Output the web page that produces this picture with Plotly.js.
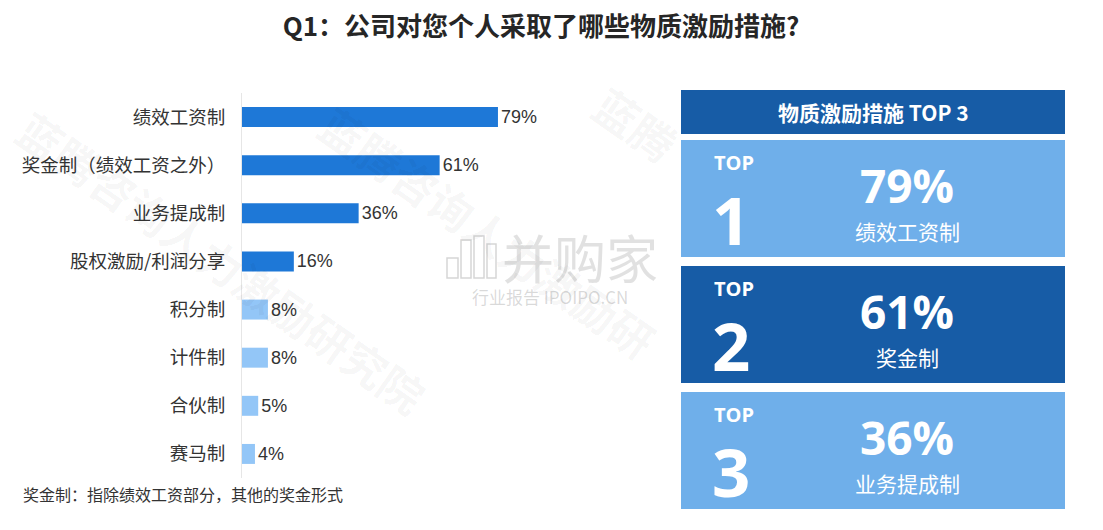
<!DOCTYPE html>
<html>
<head>
<meta charset="utf-8">
<script src="https://cdn.plot.ly/plotly-3.0.1.min.js"></script>
<style>html,body{margin:0;padding:0;background:#fff;}#chart{width:1103px;height:530px;}</style>
</head>
<body>
<div id="chart"></div>
<script>
// ---- data ----
const categories = ['绩效工资制','奖金制（绩效工资之外）','业务提成制','股权激励/利润分享','积分制','计件制','合伙制','赛马制'];
const values = [79, 61, 36, 16, 8, 8, 5, 4];
const topLabels = ['绩效工资制','奖金制','业务提成制'];
const titleText = 'Q1：公司对您个人采取了哪些物质激励措施?';
const panelTitle = '物质激励措施 TOP 3';
const footnote = '奖金制：指除绩效工资部分，其他的奖金形式';
const watermark = '蓝腾咨询人力激励研究院';

// ---- helpers ----
const W = 1103, H = 530;
const px = x => x / W;
const py = y => 1 - y / H;
const CJK = 'Noto Sans CJK SC, sans-serif';
const NUM = 'Open Sans, Noto Sans, sans-serif';

const darkBar = '#1e78d7', lightBar = '#93c6f7';
const barColors = values.map(v => v >= 16 ? darkBar : lightBar);

const trace = {
  type: 'bar', orientation: 'h',
  x: values, y: categories,
  marker: {color: barColors, line: {width: 0}},
  text: values.map(v => v + '%'),
  textposition: 'outside',
  textfont: {family: 'Liberation Sans, Arial, sans-serif', size: 18, color: '#333333'},
  cliponaxis: false,
  hoverinfo: 'none'
};

// top 3 from data
const order = values.map((v, i) => i).sort((a, b) => values[b] - values[a]).slice(0, 3);

const shapes = [];
const annotations = [];
function ann(o) {
  annotations.push(Object.assign({xref: 'paper', yref: 'paper', showarrow: false, xanchor: 'center', yanchor: 'middle'}, o));
}

// watermarks (faint)
const wmFont = {family: CJK, size: 44, color: 'rgba(0,0,0,0.045)', weight: 700};
ann({x: px(222), y: py(262), text: watermark, textangle: 35, font: wmFont});
ann({x: px(488), y: py(232), text: watermark.slice(0, 9), textangle: 35, font: wmFont});
ann({x: px(636), y: py(124), text: watermark.slice(0, 2), textangle: 35, font: wmFont});

// logo watermark
ann({x: px(580), y: py(256), text: '并购家', font: {family: CJK, size: 52, color: 'rgba(120,120,120,0.22)'}});
ann({x: px(550), y: py(296), text: '行业报告 IPOIPO.CN', font: {family: CJK, size: 17, color: 'rgba(120,120,120,0.28)'}});
[[447,258,458,278],[461,240,471,278],[474,236,484,278],[487,244,496,278]].forEach(r => {
  shapes.push({type:'rect', xref:'paper', yref:'paper', x0: px(r[0]), x1: px(r[2]), y0: py(r[3]), y1: py(r[1]),
    line: {color: 'rgba(120,120,120,0.3)', width: 1.5}, fillcolor: 'rgba(255,255,255,0)', layer: 'above'});
});

// right panel header
shapes.push({type:'rect', xref:'paper', yref:'paper', x0: px(681), x1: px(1065), y0: py(134), y1: py(90),
  fillcolor: '#175ca6', line: {width: 0}});
ann({x: px(873), y: py(112), text: panelTitle, font: {family: CJK, size: 21, color: '#ffffff', weight: 700}});

const boxTops = [140, 266, 392];
const boxColors = ['#6fafea', '#175ca6', '#6fafea'];
order.forEach((idx, k) => {
  const t = boxTops[k];
  shapes.push({type:'rect', xref:'paper', yref:'paper', x0: px(681), x1: px(1065), y0: py(t + 117), y1: py(t),
    fillcolor: boxColors[k], line: {width: 0}});
  ann({x: px(712), y: py(t + 22), xanchor: 'left', text: 'TOP', height: 24,
    font: {family: NUM, size: 20, color: '#ffffff', weight: 700}});
  ann({x: px(710), y: py(t + 79), xanchor: 'left', text: String(k + 1), height: 58,
    font: {family: NUM, size: 67, color: '#ffffff', weight: 700}});
  ann({x: px(907), y: py(t + 45), text: values[idx] + '%', height: 42,
    font: {family: NUM, size: 46, color: '#ffffff', weight: 700}});
  ann({x: px(907), y: py(t + 90), text: topLabels[k], height: 25,
    font: {family: CJK, size: 21, color: '#ffffff'}});
});

// footnote
ann({x: px(21), y: py(494), xanchor: 'left', text: footnote, font: {family: CJK, size: 16, color: '#333333'}});

const layout = {
  width: W, height: H,
  margin: {l: 0, r: 0, t: 0, b: 0},
  paper_bgcolor: '#ffffff', plot_bgcolor: 'rgba(0,0,0,0)',
  showlegend: false,
  title: {text: titleText, x: px(541), xanchor: 'center', y: py(27), yanchor: 'middle', yref: 'container',
    font: {family: CJK, size: 26, color: '#262626', weight: 700}},
  bargap: 0.585,
  xaxis: {domain: [px(242), px(566)], range: [0, 100], visible: false, fixedrange: true},
  yaxis: {domain: [py(478), py(93)], type: 'category', categoryorder: 'array', categoryarray: categories,
    range: [7.5, -0.5], showline: true, linecolor: '#e6e6e6', linewidth: 1, showgrid: false, zeroline: false,
    ticks: 'outside', ticklen: 12, tickcolor: 'rgba(0,0,0,0)',
    tickfont: {family: CJK, size: 18.5, color: '#333333'}, fixedrange: true},
  shapes: shapes,
  annotations: annotations
};

Plotly.newPlot('chart', [trace], layout, {displayModeBar: false, staticPlot: true});
</script>
</body>
</html>
